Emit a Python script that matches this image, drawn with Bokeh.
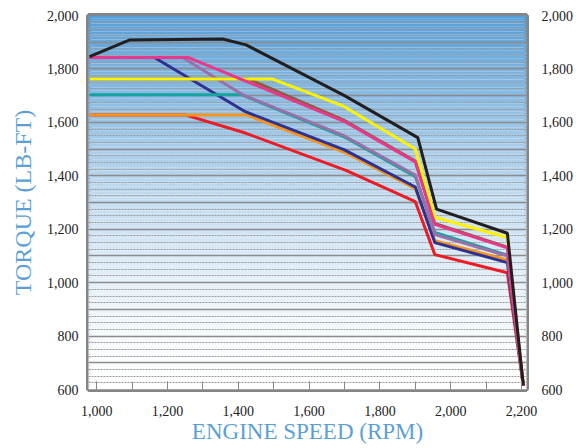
import numpy as np
from bokeh.plotting import figure
from bokeh.models import Range1d, FixedTicker, NumeralTickFormatter, LinearAxis
from bokeh.embed import file_html
from bokeh.resources import INLINE

# ---- data ----
red_rpm = [980, 1250, 1420, 1704, 1900, 1955, 2160, 2205]
red_tq = [1628, 1628, 1560, 1420, 1303, 1105, 1037, 615]

orange_rpm = [980, 1422, 1700, 1900, 1955, 2160, 2205]
orange_tq = [1628, 1628, 1488, 1352, 1157, 1085, 615]

navy_rpm = [980, 1163, 1420, 1700, 1900, 1955, 2160, 2205]
navy_tq = [1843, 1843, 1640, 1497, 1358, 1150, 1075, 615]

teal_rpm = [980, 1410, 1700, 1900, 1955, 2160, 2205]
teal_tq = [1703, 1703, 1545, 1397, 1188, 1103, 615]

purple_rpm = [980, 1243, 1410, 1700, 1900, 1955, 2160, 2205]
purple_tq = [1843, 1843, 1705, 1549, 1403, 1180, 1100, 615]

brown_rpm = [980, 1430, 1700, 1900, 1955, 2160, 2205]
brown_tq = [1762, 1762, 1607, 1455, 1222, 1133, 615]

yellow_rpm = [980, 1497, 1695, 1900, 1955, 2160, 2205]
yellow_tq = [1762, 1762, 1662, 1500, 1245, 1169, 615]

pink_rpm = [980, 1258, 1700, 1900, 1955, 2160, 2205]
pink_tq = [1843, 1843, 1603, 1452, 1218, 1130, 615]

black_rpm = [980, 1092, 1356, 1422, 1700, 1907, 1960, 2160, 2205]
black_tq = [1846, 1908, 1912, 1890, 1700, 1543, 1275, 1185, 615]

series = [
    (red_rpm, red_tq, "#ed1c24"),
    (orange_rpm, orange_tq, "#f7941d"),
    (navy_rpm, navy_tq, "#2e3192"),
    (teal_rpm, teal_tq, "#17a39e"),
    (purple_rpm, purple_tq, "#9a70aa"),
    (brown_rpm, brown_tq, "#8b5e3c"),
    (yellow_rpm, yellow_tq, "#fff200"),
    (pink_rpm, pink_tq, "#e8388c"),
    (black_rpm, black_tq, "#231f20"),
]

x_ticks = [1000, 1200, 1400, 1600, 1800, 2000, 2200]
x_minor = list(range(1000, 2201, 100))
y_ticks = [600, 800, 1000, 1200, 1400, 1600, 1800, 2000]

SERIF = "Liberation Serif"
BLUE = "#5b9fd6"

p = figure(width=582, height=448, output_backend="svg",
           toolbar_location=None,
           x_range=Range1d(977, 2214), y_range=Range1d(600, 2000),
           min_border_left=88, min_border_right=56, min_border_top=15,
           min_border_bottom=59)
p.background_fill_color = "white"
p.border_fill_color = "white"
p.outline_line_color = "#858585"
p.outline_line_width = 5

# gradient background (decorative)
ys = np.arange(600, 2000, 10)
top_c = np.array([88, 158, 214])
cols = []
for y in ys:
    t = (y + 5 - 600) / 1400.0
    f = t ** 1.5
    c = (255 * (1 - f) + top_c * f).astype(int)
    cols.append("#%02x%02x%02x" % tuple(c))
bg = p.quad(left=970, right=2220, bottom=ys, top=ys + 10, fill_color=cols,
            line_color=None)
bg.level = "image"

# grid
p.xgrid.visible = False
p.ygrid.ticker = FixedTicker(ticks=list(range(600, 2001, 100)),
                             minor_ticks=list(range(600, 2001, 25)))
p.ygrid.grid_line_color = "#8c8c8c"
p.ygrid.grid_line_width = 1.5
p.ygrid.minor_grid_line_color = "#9a9a9a"
p.ygrid.minor_grid_line_width = 1
p.ygrid.minor_grid_line_dash = "2 1"

for rpm, tq, col in series:
    p.line(rpm, tq, line_color=col, line_width=3)

# axes
xa = p.xaxis[0]
xa.ticker = FixedTicker(ticks=x_ticks, minor_ticks=x_minor)
xa.formatter = NumeralTickFormatter(format="0,0")
xa.axis_line_color = None
xa.major_tick_in = 8
xa.major_tick_out = 0
xa.minor_tick_in = 8
xa.minor_tick_out = 0
xa.major_tick_line_color = "#8a8a8a"
xa.minor_tick_line_color = "#8a8a8a"
xa.major_tick_line_width = 1
xa.major_label_standoff = 16
xa.major_label_text_font = SERIF
xa.major_label_text_font_size = "14px"
xa.major_label_text_color = "#222222"
xa.axis_label = "ENGINE SPEED (RPM)"
xa.axis_label_text_font = SERIF
xa.axis_label_text_font_size = "23px"
xa.axis_label_text_font_style = "normal"
xa.axis_label_text_color = BLUE
xa.axis_label_standoff = 0

ya = p.yaxis[0]
ra = LinearAxis()
p.add_layout(ra, "right")
for ax, so in ((ya, 10), (ra, 15)):
    ax.ticker = FixedTicker(ticks=y_ticks)
    ax.formatter = NumeralTickFormatter(format="0,0")
    ax.axis_line_color = None
    ax.major_tick_line_color = None
    ax.minor_tick_line_color = None
    ax.major_tick_in = 0
    ax.major_tick_out = 0
    ax.minor_tick_in = 0
    ax.minor_tick_out = 0
    ax.major_label_standoff = so
    ax.major_label_text_font = SERIF
    ax.major_label_text_font_size = "14px"
    ax.major_label_text_color = "#222222"

ya.axis_label = "TORQUE (LB-FT)"
ya.axis_label_text_font = SERIF
ya.axis_label_text_font_size = "24px"
ya.axis_label_text_font_style = "normal"
ya.axis_label_text_color = BLUE
ya.axis_label_standoff = 8

open("out.html", "w").write(file_html(p, INLINE))
